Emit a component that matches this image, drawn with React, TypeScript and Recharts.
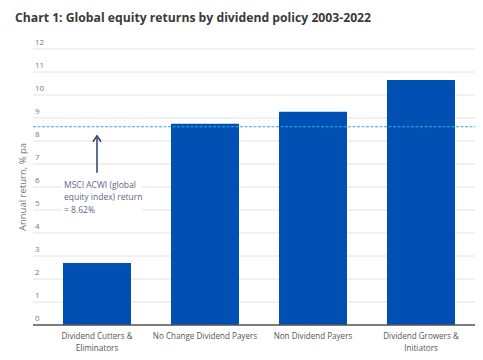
import React from 'react'
import { BarChart, Bar, XAxis, YAxis, CartesianGrid, ReferenceLine } from 'recharts'

const categories = ['Dividend Cutters &\nEliminators', 'No Change Dividend Payers', 'Non Dividend Payers', 'Dividend Growers &\nInitiators']
const returns = [2.7, 8.75, 9.27, 10.65]
const yTicks = [0, 1, 2, 3, 4, 5, 6, 7, 8, 9, 10, 11, 12]
const benchmark = 8.62
const benchmarkNote = ['MSCI ACWI (global', 'equity index) return', '= 8.62%']

const data = categories.map((name, i) => ({ name, value: returns[i] }))

const font = '"Open Sans", "Noto Sans", sans-serif'

function YTick(props: any) {
  const { y, payload } = props
  return (
    <text x={35} y={y - 4} fontSize={8} fill="#777" fontFamily={font} textAnchor="start">
      {payload.value}
    </text>
  )
}

function XTick(props: any) {
  const { x, y, payload } = props
  const lines = String(payload.value).split('\n')
  return (
    <text x={x} y={y} fontSize={8.1} fill="#555" fontFamily={font} textAnchor="middle">
      {lines.map((l, i) => (
        <tspan key={i} x={x} dy={i === 0 ? 6 : 11.5}>
          {l}
        </tspan>
      ))}
    </text>
  )
}

function BenchmarkLabel(props: any) {
  const { viewBox } = props
  const ax = viewBox.x + 64
  const top = viewBox.y + 9
  const bottom = viewBox.y + 46
  const tx = viewBox.x + 31
  return (
    <g>
      <rect x={tx - 2} y={bottom + 4} width={80} height={40} fill="#fff" />
      <line x1={ax} y1={bottom} x2={ax} y2={top + 2} stroke="#2e3f66" strokeWidth={1.5} />
      <path d={`M${ax - 4},${top + 6} L${ax},${top} L${ax + 4},${top + 6}`} fill="none" stroke="#2e3f66" strokeWidth={1.5} />
      <text x={tx} y={bottom + 15} fontSize={8.5} fill="#5b6783" fontFamily={font}>
        {benchmarkNote.map((l, i) => (
          <tspan key={i} x={tx} dy={i === 0 ? 0 : 12.5}>
            {l}
          </tspan>
        ))}
      </text>
    </g>
  )
}

export default function App() {
  return (
    <div style={{ position: 'absolute', left: 0, top: 0, width: 483, height: 360, background: '#fff' }}>
      <div
        style={{
          position: 'absolute',
          left: 15,
          top: 9,
          fontFamily: font,
          fontWeight: 700,
          fontSize: 12.2,
          color: '#3a3a3a',
          whiteSpace: 'nowrap',
        }}
      >
        Chart 1: Global equity returns by dividend policy 2003-2022
      </div>
      <BarChart width={483} height={360} data={data} margin={{ top: 49, right: 8, bottom: 5, left: 0 }} barCategoryGap={20}>
        <CartesianGrid vertical={false} stroke="#e2e2e2" />
        <XAxis
          dataKey="name"
          height={30}
          tick={<XTick />}
          tickLine={false}
          axisLine={{ stroke: '#555', strokeWidth: 1.5 }}
          padding={{ left: 10, right: 0 }}
          interval={0}
        />
        <YAxis
          width={33}
          domain={[0, 12]}
          ticks={yTicks}
          interval={0}
          tick={<YTick />}
          tickLine={false}
          axisLine={false}
          label={{ value: 'Annual return, % pa', angle: -90, position: 'center', dx: 6, style: { fontSize: 9.5, fill: '#777', fontFamily: font } }}
        />
        <Bar dataKey="value" fill="#0050b4" isAnimationActive={false} />
        <ReferenceLine y={benchmark} stroke="#3ba6d6" strokeWidth={1.2} strokeDasharray="3 1.5" label={<BenchmarkLabel />} />
      </BarChart>
    </div>
  )
}
